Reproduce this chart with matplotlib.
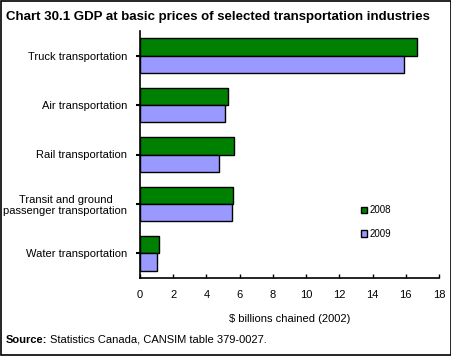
import matplotlib
matplotlib.use('Agg')
import numpy as np
from matplotlib import pyplot as plt
from matplotlib.patches import Rectangle

plt.rcParams['font.family'] = ['Liberation Sans', 'DejaVu Sans']

# categories top to bottom
industries = ['Truck transportation', 'Air transportation', 'Rail transportation',
              'Transit and ground\npassenger transportation', 'Water transportation']
gdp_2008 = [16.7, 5.3, 5.65, 5.6, 1.15]
gdp_2009 = [15.9, 5.13, 4.75, 5.53, 1.0]
years = ['2008', '2009']
xticks = [0, 2, 4, 6, 8, 10, 12, 14, 16, 18]

fig = plt.figure(figsize=(4.52, 3.56), dpi=100)
ax = fig.add_axes([140 / 452, 1 - 278 / 356, (439 - 140) / 452, (278 - 31) / 356])

pos = np.arange(len(industries))
h = 0.35
ax.barh(pos - h / 2, gdp_2008, height=h, color='#008000', edgecolor='black', linewidth=1, label=years[0])
ax.barh(pos + h / 2, gdp_2009, height=h, color='#9999FF', edgecolor='black', linewidth=1, label=years[1])

ax.set_ylim(len(industries) - 0.5, -0.5)
ax.set_xlim(0, 18)
ax.set_xticks(xticks)
ax.set_yticks(pos)
ax.set_yticklabels(industries, fontsize=8, ha='right', multialignment='center')
ax.tick_params(axis='y', direction='out', length=3, width=1.5, pad=6)
ax.tick_params(axis='x', direction='in', length=3, width=1, labelsize=8, pad=9)
for s in ['top', 'right']:
    ax.spines[s].set_visible(False)
for s in ['left', 'bottom']:
    ax.spines[s].set_linewidth(1.2)
ax.set_xlabel('$ billions chained (2002)', fontsize=8, labelpad=10)

leg = ax.legend(loc='upper left', bbox_to_anchor=(0.71, 0.33), frameon=False, fontsize=7,
                handlelength=0.6, handleheight=0.6, handletextpad=0.3, labelspacing=1.4)

fig.text(6 / 452, 1 - 17 / 356, 'Chart 30.1 GDP at basic prices of selected transportation industries',
         fontsize=9.5, fontweight='bold', va='center')
fig.text(6 / 452, 1 - 340 / 356, 'Source:', fontsize=8, fontweight='bold', va='center')
fig.text(50 / 452, 1 - 340 / 356, 'Statistics Canada, CANSIM table 379-0027.', fontsize=8, va='center')

fig.patches.append(Rectangle((0.002, 0.003), 0.995, 0.994, transform=fig.transFigure,
                             fill=False, edgecolor='black', linewidth=1.2))

fig.savefig('out.png', dpi=100)
